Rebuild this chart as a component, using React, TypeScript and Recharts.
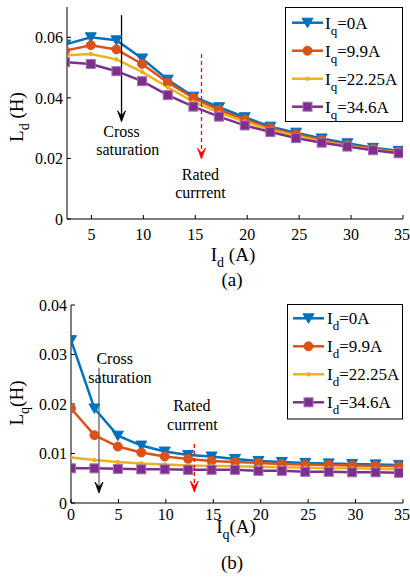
import { LineChart, Line, XAxis, YAxis, ReferenceLine, ReferenceDot } from 'recharts';

const FONT = '"Liberation Serif", "Times New Roman", serif';
const COLORS = ['#0072BD', '#D95319', '#EDB120', '#7E2F8E'];
const MARKERS = ['tri', 'circle', 'plus', 'square'];

// (a) Ld vs Id for several Iq
const idPoints = [2.47, 4.94, 7.41, 9.88, 12.35, 14.82, 17.29, 19.76, 22.23, 24.7, 27.17, 29.64, 32.11, 34.58];
const ldIq0 = [0.0576, 0.06, 0.059, 0.053, 0.046, 0.0404, 0.0369, 0.0336, 0.0305, 0.0285, 0.0266, 0.025, 0.0235, 0.0225];
const ldIq99 = [0.0556, 0.0574, 0.056, 0.0512, 0.0451, 0.04, 0.036, 0.0329, 0.03, 0.028, 0.0261, 0.0244, 0.0232, 0.0222];
const ldIq2225 = [0.054, 0.0545, 0.0527, 0.0486, 0.0435, 0.0387, 0.0351, 0.0322, 0.0294, 0.0275, 0.0256, 0.0241, 0.0229, 0.0219];
const ldIq346 = [0.0518, 0.0512, 0.0488, 0.0455, 0.0409, 0.0371, 0.0338, 0.0309, 0.0287, 0.0267, 0.0252, 0.0239, 0.0227, 0.0217];
const legendA = ['0A', '9.9A', '22.25A', '34.6A'];

// (b) Lq vs Iq for several Id
const iqPoints = [0, 2.47, 4.94, 7.41, 9.88, 12.35, 14.82, 17.29, 19.76, 22.23, 24.7, 27.17, 29.64, 32.11, 34.58];
const lqId0 = [0.0329, 0.0191, 0.0136, 0.0116, 0.0104, 0.0097, 0.0094, 0.0089, 0.0085, 0.0083, 0.0081, 0.008, 0.0079, 0.0078, 0.0077];
const lqId99 = [0.0191, 0.0137, 0.0114, 0.0102, 0.0094, 0.0089, 0.0085, 0.0083, 0.0081, 0.0079, 0.0078, 0.0077, 0.0076, 0.0075, 0.0074];
const lqId2225 = [0.0092, 0.0087, 0.0083, 0.008, 0.0078, 0.0076, 0.0075, 0.0074, 0.0073, 0.0072, 0.0071, 0.007, 0.007, 0.0069, 0.0068];
const lqId346 = [0.007, 0.007, 0.0069, 0.0068, 0.0068, 0.0067, 0.0067, 0.0067, 0.0065, 0.0065, 0.0063, 0.0063, 0.0062, 0.0062, 0.0061];
const legendB = ['0A', '9.9A', '22.25A', '34.6A'];

const xTicksA = [5, 10, 15, 20, 25, 30, 35];
const yTicksA = [0, 0.02, 0.04, 0.06];
const xTicksB = [0, 5, 10, 15, 20, 25, 30, 35];
const yTicksB = [0, 0.01, 0.02, 0.03, 0.04];

const dataA = idPoints.map((x, i) => ({ x, s0: ldIq0[i], s1: ldIq99[i], s2: ldIq2225[i], s3: ldIq346[i] }));
const dataB = iqPoints.map((x, i) => ({ x, s0: lqId0[i], s1: lqId99[i], s2: lqId2225[i], s3: lqId346[i] }));

function markerShape(kind: string, color: string, cx: number, cy: number, key?: any) {
  if (cx == null || cy == null || isNaN(cx) || isNaN(cy)) return <g key={key} />;
  if (kind === 'tri')
    return <polygon key={key} points={`${cx - 5.5},${cy - 4.5} ${cx + 5.5},${cy - 4.5} ${cx},${cy + 5}`} fill={color} stroke={color} strokeWidth={1} />;
  if (kind === 'circle') return <circle key={key} cx={cx} cy={cy} r={4.5} fill={color} stroke={color} />;
  if (kind === 'plus') return <circle key={key} cx={cx} cy={cy} r={1.8} fill={color} stroke={color} />;
  return <rect key={key} x={cx - 4.5} y={cy - 4.5} width={9} height={9} fill={color} stroke="#a070b0" strokeWidth={1} />;
}

const arrow = (color: string, shaft: string, dashed: boolean) => (p: any) => {
  const { x1, y1, x2, y2 } = p;
  return (
    <g>
      <line x1={x1} y1={y1} x2={x2} y2={y2 - 4} stroke={shaft} strokeWidth={1.3} strokeDasharray={dashed ? '4 3' : undefined} />
      <polygon points={`${x2 - 4},${y2 - 11} ${x2},${y2} ${x2 + 4},${y2 - 11} ${x2},${y2 - 6}`} fill={color} stroke={color} strokeWidth={0.8} />
    </g>
  );
};

const note = (txt: string) => (p: any) => (
  <text x={p.cx} y={p.cy} textAnchor="middle" fontFamily={FONT} fontSize={16} fill="#000">{txt}</text>
);

// axis title with a subscript, horizontal or rotated
function Title({ x, y, main, sub, rest, rotate }: any) {
  return (
    <text x={x} y={y} transform={rotate ? `rotate(-90, ${x}, ${y})` : undefined} textAnchor="middle"
      fontFamily={FONT} fontSize={19} fill="#000">
      {main}<tspan dy={6} fontSize={14}>{sub}</tspan><tspan dy={-6}>{rest}</tspan>
    </text>
  );
}

const tickStyle = { fontFamily: FONT, fontSize: 16, fill: '#000' };

function series(prefix: string) {
  return [0, 1, 2, 3].map((i) => (
    <Line
      key={prefix + i}
      type="linear"
      dataKey={'s' + i}
      stroke={COLORS[i]}
      strokeWidth={2.5}
      isAnimationActive={false}
      dot={(p: any) => markerShape(MARKERS[i], COLORS[i], p.cx, p.cy, prefix + i + '-' + p.index)}
      activeDot={false}
    />
  ));
}

function LegendBox({ x, y, w, h, rowY, lineX, textX, sub, labels }: any) {
  return (
    <g>
      <rect x={x} y={y} width={w} height={h} fill="#fff" stroke="#000" strokeWidth={1} />
      {labels.map((lab: string, i: number) => {
        const ry = rowY + i * 28;
        return (
          <g key={i}>
            <line x1={lineX} y1={ry} x2={lineX + 31} y2={ry} stroke={COLORS[i]} strokeWidth={2.5} />
            {markerShape(MARKERS[i], COLORS[i], lineX + 15.5, ry)}
            <text x={textX} y={ry + 6} fontFamily={FONT} fontSize={17} fill="#000">
              I<tspan dy={6} fontSize={13}>{sub}</tspan><tspan dy={-6}>={lab}</tspan>
            </text>
          </g>
        );
      })}
    </g>
  );
}

export default function App() {
  return (
    <div style={{ position: 'absolute', left: 0, top: 0, width: 410, height: 583, background: '#fff', fontFamily: FONT }}>
      <div style={{ position: 'absolute', left: 0, top: 0 }}>
        <LineChart width={410} height={295} data={dataA} margin={{ top: 7, right: 7, left: 0, bottom: 0 }} style={{ fontFamily: FONT }}>
          <XAxis dataKey="x" type="number" domain={[2.65, 35]} allowDataOverflow ticks={xTicksA} height={76}
            stroke="#000" tickSize={-4} tickMargin={14} tick={tickStyle} fontFamily={FONT} />
          <XAxis xAxisId="top" dataKey="x" type="number" orientation="top" domain={[2.65, 35]} allowDataOverflow ticks={xTicksA} height={0}
            stroke="#000" tickSize={-4} tick={false} />
          <YAxis type="number" domain={[0, 0.07]} allowDataOverflow ticks={yTicksA} width={67}
            stroke="#000" tickSize={-4} tickMargin={8} tick={tickStyle} fontFamily={FONT} />
          <YAxis yAxisId="right" orientation="right" type="number" domain={[0, 0.07]} ticks={yTicksA} width={0}
            stroke="#000" tickSize={-4} tick={false} />
          {series('a')}
          <ReferenceLine segment={[{ x: 7.9, y: 0.0673 }, { x: 7.9, y: 0.0321 }]} shape={arrow('#000', '#000', false)} />
          <ReferenceLine segment={[{ x: 15.6, y: 0.0545 }, { x: 15.6, y: 0.0198 }]} shape={arrow('#f00', '#f00', true)} />
          <ReferenceDot x={7.9} y={0.0272} r={0} shape={note('Cross')} />
          <ReferenceDot x={8.5} y={0.0211} r={0} shape={note('saturation')} />
          <ReferenceDot x={15.5} y={0.0129} r={0} shape={note('Rated')} />
          <ReferenceDot x={15.5} y={0.0068} r={0} shape={note('currrent')} />
        </LineChart>
      </div>
      <div style={{ position: 'absolute', left: 0, top: 290 }}>
        <LineChart width={410} height={293} data={dataB} margin={{ top: 15, right: 7, left: 0, bottom: 0 }} style={{ fontFamily: FONT }}>
          <XAxis dataKey="x" type="number" domain={[0, 35]} allowDataOverflow ticks={xTicksB} height={80}
            stroke="#000" tickSize={-4} tickMargin={10} tick={tickStyle} fontFamily={FONT} />
          <XAxis xAxisId="top" dataKey="x" type="number" orientation="top" domain={[0, 35]} ticks={xTicksB} height={0}
            stroke="#000" tickSize={-4} tick={false} />
          <YAxis type="number" domain={[0, 0.04]} allowDataOverflow ticks={yTicksB} width={71}
            stroke="#000" tickSize={-4} tickMargin={8} tick={tickStyle} fontFamily={FONT} />
          <YAxis yAxisId="right" orientation="right" type="number" domain={[0, 0.04]} ticks={yTicksB} width={0}
            stroke="#000" tickSize={-4} tick={false} />
          {series('b')}
          <ReferenceLine segment={[{ x: 2.95, y: 0.0273 }, { x: 2.95, y: 0.002 }]} shape={arrow('#000', '#666', false)} />
          <ReferenceLine segment={[{ x: 13.0, y: 0.0119 }, { x: 13.0, y: 0.0022 }]} shape={arrow('#f00', '#f00', true)} />
          <ReferenceDot x={4.6} y={0.0281} r={0} shape={note('Cross')} />
          <ReferenceDot x={5.15} y={0.0243} r={0} shape={note('saturation')} />
          <ReferenceDot x={12.75} y={0.0186} r={0} shape={note('Rated')} />
          <ReferenceDot x={12.8} y={0.0147} r={0} shape={note('currrent')} />
        </LineChart>
      </div>
      <svg width={410} height={583} style={{ position: 'absolute', left: 0, top: 0, pointerEvents: 'none' }}>
        <LegendBox x={285.5} y={7.5} w={117} h={114} rowY={22.7} lineX={292} textX={325} sub="q" labels={legendA} />
        <LegendBox x={287.5} y={304.5} w={115} h={114.5} rowY={318.3} lineX={293} textX={327} sub="d" labels={legendB} />
        <Title x={233} y={261} main="I" sub="d" rest=" (A)" />
        <text x={232} y={286} textAnchor="middle" fontFamily={FONT} fontSize={19} fill="#000">(a)</text>
        <Title x={23} y={117} main="L" sub="d" rest=" (H)" rotate />
        <Title x={236} y={533} main="I" sub="q" rest="(A)" />
        <text x={232} y={569} textAnchor="middle" fontFamily={FONT} fontSize={19} fill="#000">(b)</text>
        <Title x={23} y={403} main="L" sub="q" rest="(H)" rotate />
      </svg>
    </div>
  );
}
